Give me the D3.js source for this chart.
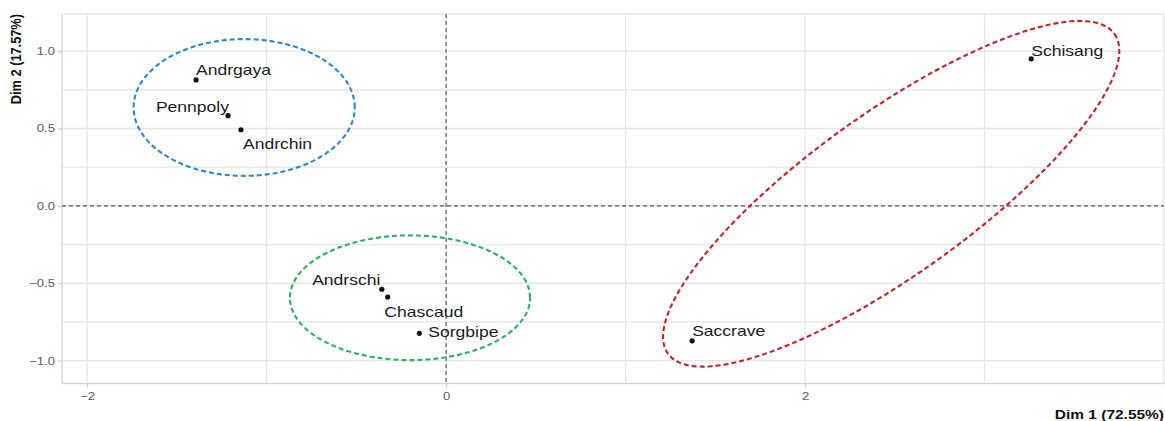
<!DOCTYPE html>
<html>
<head>
<meta charset="utf-8">
<script src="https://cdn.jsdelivr.net/npm/d3@7"></script>
<style>
  html, body { margin: 0; padding: 0; background: #fff; }
  svg { display: block; }
</style>
</head>
<body>
<svg id="chart" width="1165" height="421"></svg>
<script>
// Individuals on the first factorial plane
const names = ["Andrgaya", "Pennpoly", "Andrchin", "Andrschi", "Chascaud", "Sorgbipe", "Schisang", "Saccrave"];
const dim1 = [-1.393, -1.215, -1.143, -0.358, -0.325, -0.149, 3.26, 1.371];
const dim2 = [0.814, 0.583, 0.492, -0.539, -0.589, -0.824, 0.95, -0.872];
const cluster = [0, 0, 0, 1, 1, 1, 2, 2];

// Axis ticks and titles
const xTicks = [-2, 0, 2];
const yTicks = [-1, -0.5, 0, 0.5, 1];
const xTitle = "Dim 1 (72.55%)";
const yTitle = "Dim 2 (17.57%)";

// Cluster ellipses: centre and two conjugate semi-axes, in data units
const ellCx = [-1.125, -0.201, 2.48];
const ellCy = [0.636, -0.594, 0.078];
const ellAx = [0.616, 0.669, 1.244];
const ellAy = [0, 0, 1.033];
const ellBx = [0, 0, 0.261];
const ellBy = [0.442, 0.403, -0.425];

// ---- styling / layout ----
const clusterColors = ["#2c87d3", "#25b559", "#d01f22"];
// label placement relative to each point (pixels)
const labelNudge = [
  { dx: 0, dy: -5, anchor: "start" },
  { dx: 1, dy: -4, anchor: "end" },
  { dx: 2, dy: 19, anchor: "start" },
  { dx: -1.5, dy: -4, anchor: "end" },
  { dx: -3.5, dy: 19.5, anchor: "start" },
  { dx: 9, dy: 4, anchor: "start" },
  { dx: 0, dy: -3, anchor: "start" },
  { dx: 0, dy: -5, anchor: "start" }
];
const SX = 1.21; // horizontal text stretch

const panel = { left: 62, right: 1164, top: 14, bottom: 383.5 };

const x = d3.scaleLinear().domain([-2.14, 4.0]).range([panel.left, panel.right]);
const y = d3.scaleLinear().domain([-1.148, 1.24]).range([panel.bottom, panel.top]);

const svg = d3.select("#chart");
const gridColor = "#e6e6e6";

// grid
const grid = svg.append("g");
grid.selectAll("line.gx")
  .data(d3.range(-2, 4.001, 1))
  .join("line")
  .attr("x1", d => x(d)).attr("x2", d => x(d))
  .attr("y1", panel.top).attr("y2", panel.bottom)
  .attr("stroke", gridColor).attr("stroke-width", 1.3);
grid.selectAll("line.gy")
  .data(d3.range(-1, 1.001, 0.25))
  .join("line")
  .attr("x1", panel.left).attr("x2", panel.right)
  .attr("y1", d => y(d)).attr("y2", d => y(d))
  .attr("stroke", gridColor).attr("stroke-width", 1.3);
grid.append("line")
  .attr("x1", panel.left).attr("x2", panel.right)
  .attr("y1", panel.top).attr("y2", panel.top)
  .attr("stroke", gridColor).attr("stroke-width", 1.3);

// axes
const xAxis = d3.axisBottom(x).tickValues(xTicks).tickSize(4).tickPadding(3).tickFormat(d3.format("d"));
const yAxis = d3.axisLeft(y).tickValues(yTicks).tickSize(4).tickPadding(3).tickFormat(d3.format(".1f"));

function styleAxis(g) {
  g.select(".domain").attr("stroke", "#d6d6d6").attr("stroke-width", 1.3);
  g.selectAll(".tick line").attr("stroke", "#c8c8c8").attr("stroke-width", 1);
  g.selectAll(".tick text")
    .attr("fill", "#5a5a5a")
    .style("font-family", "'Liberation Sans', Arial, sans-serif")
    .style("font-size", "10.8px");
}

const gx = svg.append("g").attr("transform", `translate(0,${panel.bottom})`).call(xAxis).call(styleAxis);
gx.select(".domain").attr("d", `M${panel.left},0H${panel.right}`);
gx.selectAll(".tick text").attr("transform", `scale(${SX},1)`).attr("x", 0).attr("dy", "0.85em");

const gy = svg.append("g").attr("transform", `translate(${panel.left},0)`).call(yAxis).call(styleAxis);
gy.select(".domain").attr("d", `M0,${panel.bottom}V${panel.top}`);
gy.selectAll(".tick text").attr("transform", `translate(-7,0) scale(${SX},1)`).attr("x", 0);

// zero reference lines
svg.append("line")
  .attr("x1", panel.left).attr("x2", panel.right)
  .attr("y1", y(0)).attr("y2", y(0))
  .attr("stroke", "#555").attr("stroke-width", 1.1).attr("stroke-dasharray", "4,3");
svg.append("line")
  .attr("x1", x(0)).attr("x2", x(0))
  .attr("y1", panel.top).attr("y2", panel.bottom)
  .attr("stroke", "#555").attr("stroke-width", 1.1).attr("stroke-dasharray", "4,3");

// cluster ellipses
const ellLine = d3.line().x(p => x(p[0])).y(p => y(p[1])).curve(d3.curveLinearClosed);
const angles = d3.range(0, 2 * Math.PI, Math.PI / 90);
ellCx.forEach((cx, i) => {
  const pts = angles.map(t => [
    cx + ellAx[i] * Math.cos(t) + ellBx[i] * Math.sin(t),
    ellCy[i] + ellAy[i] * Math.cos(t) + ellBy[i] * Math.sin(t)
  ]);
  svg.append("path")
    .attr("d", ellLine(pts))
    .attr("fill", "none")
    .attr("stroke", clusterColors[i])
    .attr("stroke-width", 2.1)
    .attr("stroke-dasharray", "5,3");
});

// points
const idx = d3.range(names.length);
svg.append("g").selectAll("circle")
  .data(idx)
  .join("circle")
  .attr("cx", i => x(dim1[i]))
  .attr("cy", i => y(dim2[i]))
  .attr("r", 2.6)
  .attr("fill", "#111");

// point labels
svg.append("g").selectAll("text")
  .data(idx)
  .join("text")
  .attr("transform", i => `translate(${x(dim1[i]) + labelNudge[i].dx},${y(dim2[i]) + labelNudge[i].dy}) scale(${SX},1)`)
  .attr("text-anchor", i => labelNudge[i].anchor)
  .attr("fill", "#1c1c1c")
  .style("font-family", "'Liberation Sans', Arial, sans-serif")
  .style("font-size", "14.5px")
  .text(i => names[i]);

// axis titles
svg.append("text")
  .attr("transform", `translate(${panel.right},419) scale(${SX},1)`)
  .attr("text-anchor", "end")
  .attr("fill", "#111")
  .style("font-family", "'Liberation Sans', Arial, sans-serif")
  .style("font-size", "12.8px")
  .style("font-weight", "bold")
  .text(xTitle);

svg.append("text")
  .attr("transform", `translate(20.5,${panel.top}) scale(${SX},1) rotate(-90)`)
  .attr("text-anchor", "end")
  .attr("fill", "#111")
  .style("font-family", "'Liberation Sans', Arial, sans-serif")
  .style("font-size", "12.8px")
  .style("font-weight", "bold")
  .text(yTitle);
</script>
</body>
</html>
